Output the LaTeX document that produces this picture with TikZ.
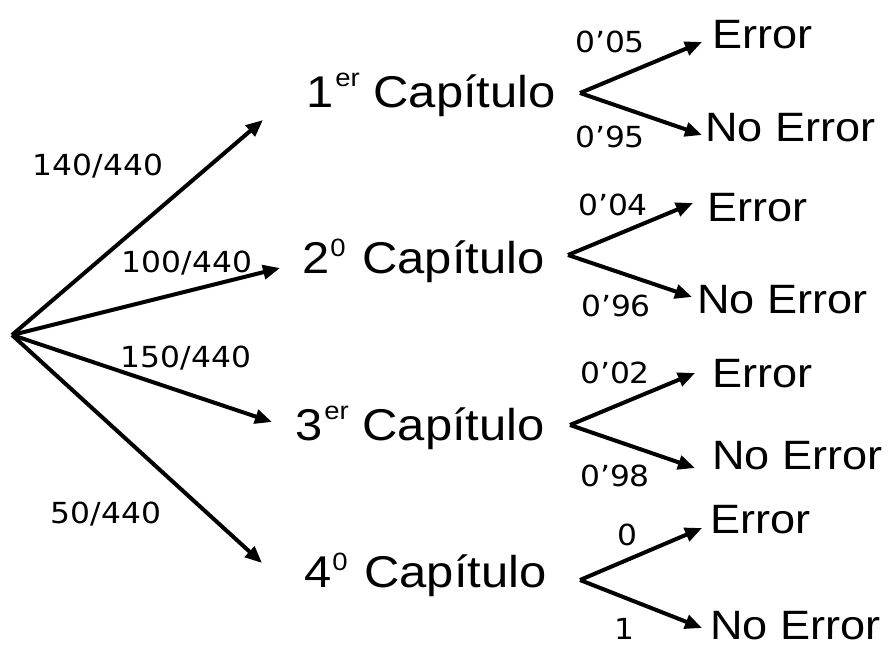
\documentclass[tikz,border=0pt]{standalone}
\usepackage{fontspec}
\setmainfont{Liberation Sans}[FakeStretch=1.1]
\newfontfamily\numfont{DejaVu Sans}[FakeStretch=1.08]
\usetikzlibrary{arrows.meta, calc}

% raised small text after the chapter number
\newcommand\supr[2]{\raisebox{#1}{\fontsize{25}{25}\selectfont #2}}

\tikzset{
    chap/.style={font=\fontsize{44.5}{50}\selectfont, anchor=base west, inner sep=0pt},
    outc/.style={font=\fontsize{41}{50}\selectfont, anchor=base west, inner sep=0pt},
    prob/.style={font=\numfont\fontsize{29}{36}\selectfont, inner sep=0pt},
    branch/.style={line width=4pt, -{Triangle[length=17pt, width=14pt]}}
}

\begin{document}
\begin{tikzpicture}[x=1pt, y=-1pt]
    \useasboundingbox (0, 0) rectangle (890, 647);

    \coordinate (root) at (12, 335);

    \coordinate (t1) at (263, 120);
    \coordinate (t2) at (280, 268);
    \coordinate (t3) at (272, 422);
    \coordinate (t4) at (262, 563);

    \node[prob] (r1) at (98, 166) {140/440};
    \node[prob] (r2) at (187, 263) {100/440};
    \node[prob] (r3) at (186, 358) {150/440};
    \node[prob] (r4) at (106, 514) {50/440};

    \draw[branch] (root) -- (t1);
    \draw[branch] (root) -- (t2);
    \draw[branch] (root) -- (t3);
    \draw[branch] (root) -- (t4);

    \node[chap] (cap1) at (306, 108) {1\kern2pt\supr{21pt}{er} Capítulo};
    \node[chap] (cap2) at (302, 273) {2\kern1pt\supr{17pt}{0}\kern3pt{} Capítulo};
    \node[chap] (cap3) at (295, 440) {3\kern2pt\supr{21pt}{er} Capítulo};
    \node[chap] (cap4) at (304, 587) {4\kern1pt\supr{17pt}{0}\kern3pt{} Capítulo};

    \coordinate (v1) at (580, 93);
    \coordinate (v2) at (568, 255);
    \coordinate (v3) at (570, 425);
    \coordinate (v4) at (580, 580);

    \coordinate (e1) at ($(v1) + (122, -51)$);
    \coordinate (n1) at ($(v1) + (122, 42)$);
    \coordinate (e2) at ($(v2) + (125, -52)$);
    \coordinate (n2) at ($(v2) + (124, 42)$);
    \coordinate (e3) at ($(v3) + (125, -52)$);
    \coordinate (n3) at ($(v3) + (125, 43)$);
    \coordinate (e4) at ($(v4) + (122, -52)$);
    \coordinate (n4) at ($(v4) + (122, 48)$);

    \draw[branch] (v1) -- (e1);
    \draw[branch] (v1) -- (n1);
    \draw[branch] (v2) -- (e2);
    \draw[branch] (v2) -- (n2);
    \draw[branch] (v3) -- (e3);
    \draw[branch] (v3) -- (n3);
    \draw[branch] (v4) -- (e4);
    \draw[branch] (v4) -- (n4);

    \node[prob] (p11) at (610, 42) {0’05};
    \node[prob] (p12) at (610, 137) {0’95};
    \node[prob] (p21) at (613, 205) {0’04};
    \node[prob] (p22) at (616, 306) {0’96};
    \node[prob] (p31) at (615, 373) {0’02};
    \node[prob] (p32) at (615, 476) {0’98};
    \node[prob] (p41) at (627, 535) {0};
    \node[prob] (p42) at (624, 629) {1};

    \node[outc] (err1) at (712, 49) {Error};
    \node[outc] (ok1) at (705, 142) {No Error};
    \node[outc] (err2) at (707, 221) {Error};
    \node[outc] (ok2) at (697, 313) {No Error};
    \node[outc] (err3) at (712, 387) {Error};
    \node[outc] (ok3) at (712, 469) {No Error};
    \node[outc] (err4) at (710, 533) {Error};
    \node[outc] (ok4) at (710, 639) {No Error};
\end{tikzpicture}
\end{document}
